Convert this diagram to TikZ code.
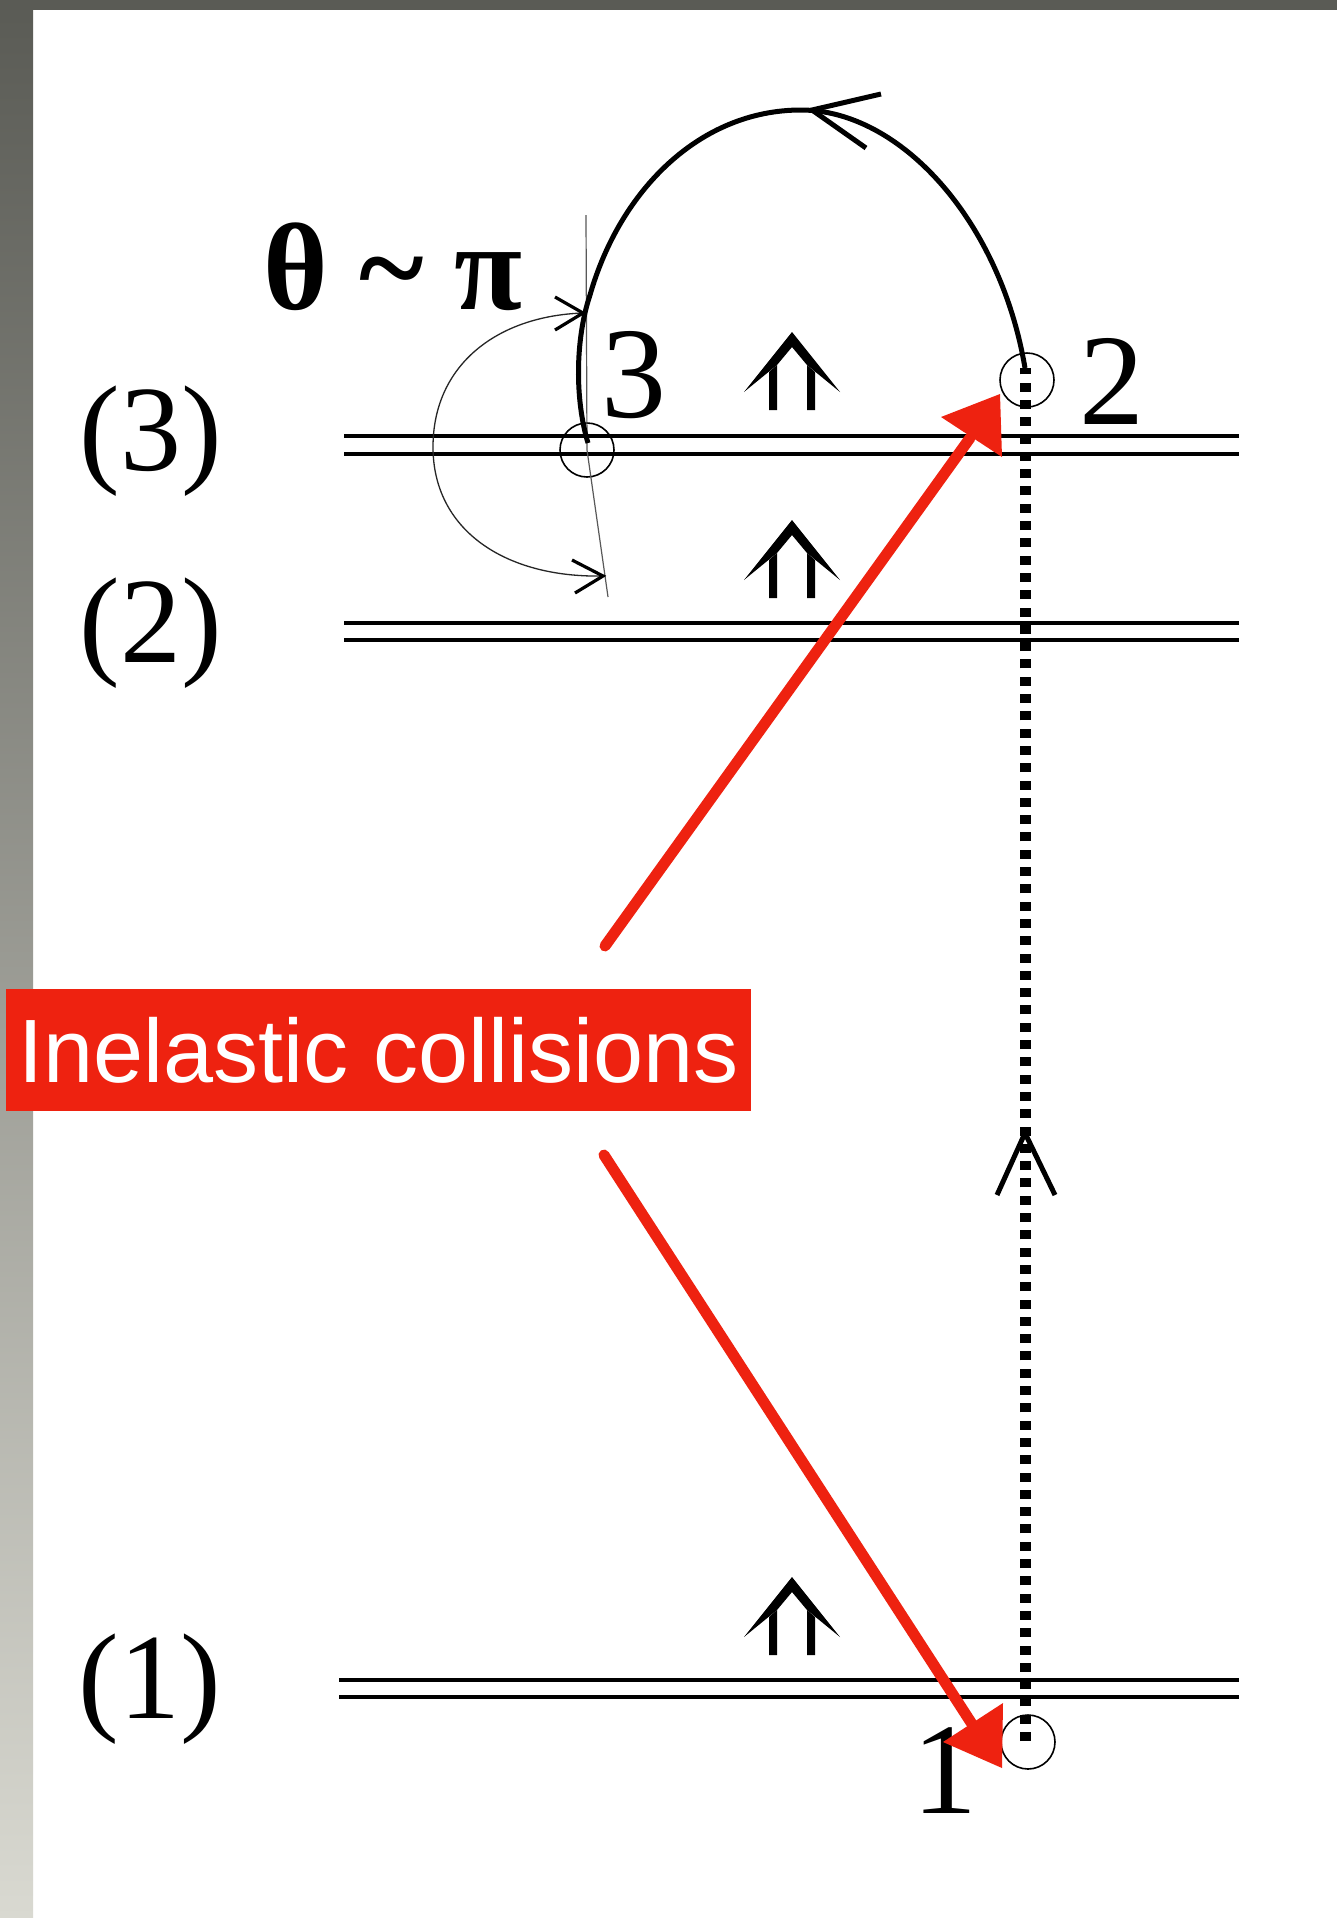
\documentclass[tikz,border=0pt]{standalone}
\usepackage{fontspec}
\setmainfont{Liberation Serif}
\newfontfamily\sansf{Liberation Sans}
\definecolor{redc}{RGB}{238,34,16}
\definecolor{stripTop}{RGB}{90,91,85}
\definecolor{stripMid}{RGB}{178,178,170}
\definecolor{stripBot}{RGB}{217,217,209}
\begin{document}
\begin{tikzpicture}[x=0.5pt,y=-0.5pt,
  level/.style={line width=1.75pt},
  ring/.style={draw, circle, line width=0.8pt, minimum size=27pt, inner sep=0pt},
  orbit/.style={line width=2.5pt},
  chev/.style={line width=2.5pt, line join=miter},
  thinchev/.style={line width=1.6pt, line join=miter},
  guide/.style={line width=0.6pt, black!65},
  anglearc/.style={line width=0.65pt, black!85},
  dots/.style={line width=5.5pt, dash pattern=on 4.5pt off 4.15pt},
  redarrow/.style={line width=5.5pt, redc, line cap=round},
  lvlabel/.style={anchor=base, font=\fontsize{61}{61}\selectfont},
  ptlabel/.style={anchor=base, font=\fontsize{65}{65}\selectfont},
  dblup/.pic={
    \fill (0,-1) -- (48,59) -- (15,32) -- (0,14) -- (-15,32) -- (-48,59) -- cycle;
    \fill (-23,39) -- (-15,32) -- (-15,77) -- (-23,77) -- cycle;
    \fill (15,32) -- (23,39) -- (23,77) -- (15,77) -- cycle;
  }]
\useasboundingbox (0,0) rectangle (1337,1918);
\fill[white] (0,0) rectangle (1337,1918);
% frame of the slide
\shade[top color=stripTop, middle color=stripMid, bottom color=stripBot] (0,0) rectangle (33,1918);
\fill[stripTop] (0,0) rectangle (1337,10);

% levels
\coordinate (L3a) at (344,436); \coordinate (R3a) at (1239,436);
\coordinate (L3b) at (344,454); \coordinate (R3b) at (1239,454);
\coordinate (L2a) at (344,623); \coordinate (R2a) at (1239,623);
\coordinate (L2b) at (344,640); \coordinate (R2b) at (1239,640);
\coordinate (L1a) at (339,1680); \coordinate (R1a) at (1239,1680);
\coordinate (L1b) at (339,1697); \coordinate (R1b) at (1239,1697);
\draw[level] (L3a) -- (R3a); \draw[level] (L3b) -- (R3b);
\draw[level] (L2a) -- (R2a); \draw[level] (L2b) -- (R2b);
\draw[level] (L1a) -- (R1a); \draw[level] (L1b) -- (R1b);

\node[lvlabel] (lab3) at (151,470) {(3)};
\node[lvlabel] (lab2) at (151,662) {(2)};
\node[lvlabel] (lab1) at (150,1718) {(1)};

% double arrows
\pic at (792,333) {dblup};
\pic at (792,521) {dblup};
\pic at (792,1578) {dblup};

% points
\node[ring] (c3) at (587,450) {};
\node[ring] (c2) at (1027,380) {};
\node[ring] (c1) at (1028,1742) {};
\node[ptlabel] (n3) at (634,417) {3};
\node[ptlabel] (n2) at (1112,424) {2};
\node[ptlabel] (n1) at (945,1813) {1};

% guide lines at point 3
\coordinate (g0) at (586,215);
\coordinate (g1) at (587,450);
\coordinate (g2) at (608,597);
\draw[guide] (g0) -- (g1) -- (g2);

% angle arc
\coordinate (t0) at (583,313);
\coordinate (t1) at (603,576);
\draw[anglearc] (t0) .. controls (497,316) and (433,365) .. (433,447) .. controls (433,530) and (505,578) .. (t1);
\draw[thinchev] (555,297) -- (t0) -- (555,330);
\draw[thinchev] (572,560) -- (t1) -- (575,593);
\node[anchor=base west, font=\bfseries\fontsize{62}{62}\selectfont, inner sep=0pt] (theta) at (263,309) {θ \textasciitilde{} π};

% orbit 2 -> 3
\coordinate (a3) at (588,443);
\coordinate (a2) at (1025,368);
\coordinate (top) at (801,110);
\draw[orbit] (a3) .. controls (575,400) and (575,340) .. (590,295) .. controls (620,190) and (700,110) .. (top) .. controls (900,110) and (1000,220) .. (a2);
\draw[chev] (881,94) -- (812,110) -- (866,148);

% dotted path 1 -> 2
\coordinate (d1) at (1025,1741);
\coordinate (d2) at (1025,368);
\draw[dots] (d1) -- (d2);
\draw[chev] (997,1195) -- (1025,1133) -- (1055,1195);

% red annotation
\node[fill=redc, text=white, inner sep=0pt, minimum width=372.5pt, minimum height=61pt,
      font=\sansf\fontsize{45}{45}\selectfont] (inel) at (378.5,1050) {Inelastic collisions};
\coordinate (rA0) at (605,946); \coordinate (rA1) at (970,438);
\draw[redarrow] (rA0) -- (rA1);
\fill[redc] (1000,394) -- (941,417) -- (1002,457) -- cycle;
\coordinate (rB0) at (604,1155); \coordinate (rB1) at (972,1724);
\draw[redarrow] (rB0) -- (rB1);
\fill[redc] (1003,1703) -- (943,1742) -- (1002,1768) -- cycle;
\end{tikzpicture}
\end{document}
